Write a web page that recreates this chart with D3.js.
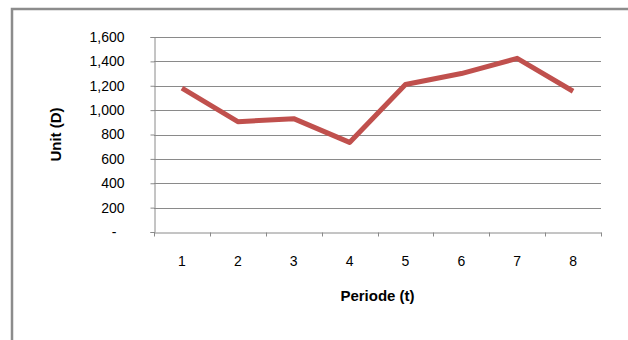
<!DOCTYPE html>
<html>
<head>
<meta charset="utf-8">
<script src="https://cdn.jsdelivr.net/npm/d3@7"></script>
<style>
  html, body { margin: 0; padding: 0; background: #fff; }
  svg { display: block; }
  text { font-family: "Liberation Sans", Arial, sans-serif; fill: #000; }
</style>
</head>
<body>
<svg id="chart" width="628" height="340"></svg>
<script>
const categories = ["1", "2", "3", "4", "5", "6", "7", "8"];
const values = [1180, 905, 930, 735, 1210, 1300, 1425, 1155];
const yTicks = [0, 200, 400, 600, 800, 1000, 1200, 1400, 1600];
const xTitle = "Periode (t)";
const yTitle = "Unit (D)";

const svg = d3.select("#chart");
const W = 628, H = 340;
const plot = { left: 154, right: 601, top: 37, bottom: 232 };

// outer frame
svg.append("rect")
  .attr("x", 12).attr("y", 9)
  .attr("width", 700).attr("height", 400)
  .attr("fill", "#fff")
  .attr("stroke", "#8c8c8c")
  .attr("stroke-width", 2.5);

const x = d3.scaleBand().domain(categories).range([plot.left, plot.right]).padding(0);
const y = d3.scaleLinear().domain([0, 1600]).range([plot.bottom, plot.top]);

// gridlines
svg.append("g")
  .selectAll("line")
  .data(yTicks.filter(d => d !== 0))
  .join("line")
  .attr("x1", plot.left).attr("x2", plot.right)
  .attr("y1", d => Math.round(y(d)) + 0.5).attr("y2", d => Math.round(y(d)) + 0.5)
  .attr("stroke", "#8a8a8a").attr("stroke-width", 1);

// y axis
const yAxis = svg.append("g")
  .attr("transform", `translate(${plot.left + 0.5},0)`)
  .call(d3.axisLeft(y).tickValues(yTicks).tickSize(4).tickPadding(26)
    .tickFormat(d => d === 0 ? "-" : d3.format(",")(d)));
yAxis.select(".domain").attr("stroke", "#8a8a8a");
yAxis.selectAll(".tick line").attr("stroke", "#8a8a8a");
yAxis.selectAll(".tick text")
  .attr("font-size", 14)
  .attr("font-family", "'Liberation Sans', Arial, sans-serif")
  .attr("fill", "#000")
  .attr("dx", d => d === 0 ? -8 : 0);

// x axis
const xAxis = svg.append("g")
  .attr("transform", `translate(0,${plot.bottom + 0.5})`)
  .call(d3.axisBottom(x).tickSize(0).tickPadding(24));
xAxis.select(".domain").attr("stroke", "#8a8a8a");
xAxis.selectAll(".tick text")
  .attr("font-size", 14)
  .attr("font-family", "'Liberation Sans', Arial, sans-serif")
  .attr("fill", "#000");
// tick marks at band boundaries
const bounds = categories.map(c => x(c)).concat([x(categories[categories.length - 1]) + x.bandwidth()]);
xAxis.append("g").selectAll("line")
  .data(bounds)
  .join("line")
  .attr("x1", d => Math.round(d) + 0.5).attr("x2", d => Math.round(d) + 0.5)
  .attr("y1", 0).attr("y2", 4)
  .attr("stroke", "#8a8a8a");

// line
const line = d3.line()
  .x((d, i) => x(categories[i]) + x.bandwidth() / 2)
  .y(d => y(d));
svg.append("path")
  .datum(values)
  .attr("d", line)
  .attr("fill", "none")
  .attr("stroke", "#C0504D")
  .attr("stroke-width", 5)
  .attr("stroke-linejoin", "round");

// axis titles
svg.append("text")
  .attr("x", (plot.left + plot.right) / 2)
  .attr("y", 301)
  .attr("text-anchor", "middle")
  .attr("font-size", 15)
  .attr("font-weight", "bold")
  .text(xTitle);

svg.append("text")
  .attr("transform", `translate(61,${(plot.top + plot.bottom) / 2}) rotate(-90)`)
  .attr("text-anchor", "middle")
  .attr("font-size", 15)
  .attr("font-weight", "bold")
  .text(yTitle);
</script>
</body>
</html>
